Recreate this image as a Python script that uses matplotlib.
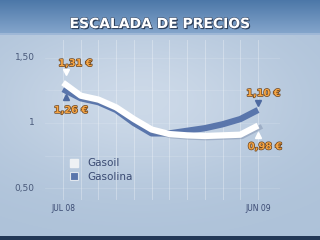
import matplotlib
matplotlib.use('Agg')
import matplotlib.pyplot as plt
import matplotlib.patheffects as pe
import numpy as np

# monthly prices, jul 08 .. jun 09
months = ['JUL 08', 'AGO 08', 'SEP 08', 'OCT 08', 'NOV 08', 'DIC 08',
          'ENE 09', 'FEB 09', 'MAR 09', 'ABR 09', 'MAY 09', 'JUN 09']
gasoil = [1.31, 1.21, 1.18, 1.12, 1.03, 0.95, 0.915, 0.905, 0.90, 0.905, 0.91, 0.98]
gasolina = [1.26, 1.19, 1.16, 1.10, 1.00, 0.92, 0.92, 0.94, 0.96, 0.99, 1.03, 1.10]
yticks = [0.5, 1.0, 1.5]
ylabels = ['0,50', '1', '1,50']

W, H = 320, 240
fig = plt.figure(figsize=(W / 100, H / 100), dpi=100)

# background
bg = fig.add_axes([0, 0, 1, 1])
img = np.zeros((H, W, 3))
yy, xx = np.mgrid[0:H, 0:W]
base = np.array([0.68, 0.76, 0.85])
light = np.array([0.80, 0.85, 0.91])
glow = np.exp(-(((xx - 140) / 150.0) ** 2 + ((yy - 100) / 80.0) ** 2))
img[:] = base + (light - base) * glow[..., None]
top = np.array([0.30, 0.47, 0.66])
bot = np.array([0.52, 0.65, 0.80])
t = np.linspace(0, 1, 34)[:, None]
img[:34] = (top + (bot - top) * t)[:, None, :]
img[33:35] = [0.62, 0.72, 0.84]
img[236:] = [0.14, 0.22, 0.34]
bg.imshow(img, aspect='auto', extent=[0, W, H, 0])
bg.set_xlim(0, W)
bg.set_ylim(H, 0)
bg.axis('off')

bg.text(160, 24, 'ESCALADA DE PRECIOS', color='white', fontsize=10, fontweight='bold',
        ha='center', va='center',
        path_effects=[pe.withSimplePatchShadow(offset=(0.8, -0.8), shadow_rgbFace='#1c2c44', alpha=0.9),
                      pe.withStroke(linewidth=0.8, foreground='#3a4a66')])

# chart axes, placed in pixels
ax = fig.add_axes([45 / W, 40 / H, 235 / W, 160 / H])
ax.patch.set_alpha(0)
x = np.arange(len(months))
ax.set_xlim(-1.015, 12.24)
ax.set_ylim(0.408, 1.638)
for s in ax.spines.values():
    s.set_visible(False)
ax.set_xticks(x)
ax.set_yticks(np.arange(0.5, 1.51, 0.25))
ax.grid(True, axis='x', color='white', alpha=0.3, lw=0.7)
ax.grid(True, axis='y', color='white', alpha=0.15, lw=0.6)
ax.tick_params(length=0, labelleft=False, labelbottom=False)

for v, lab in zip(yticks, ylabels):
    ax.text(-1.6, v, lab, color='#4a5a7a', fontsize=6.5, ha='right', va='center')
ax.text(x[0], 0.34, months[0], color='#3a4a72', fontsize=5.5, ha='center', va='center')
ax.text(x[-1], 0.34, months[-1], color='#3a4a72', fontsize=5.5, ha='center', va='center')

ax.plot(x, gasolina, color='#5a76ac', lw=4.5, solid_capstyle='butt')
ax.plot(x + 0.1, np.array(gasoil) - 0.015, color='#7a8aa8', lw=3.5, alpha=0.45)
ax.plot(x, gasoil, color='white', lw=4.5, solid_capstyle='butt')

ax.plot(0.15, 1.39, marker='v', color='white', ms=5)
ax.plot(0.15, 1.20, marker='^', color='#4e6aa0', ms=5)
ax.plot(x[-1], 1.155, marker='v', color='#4e6aa0', ms=5)
ax.plot(x[-1], 0.905, marker='^', color='white', ms=5)

lab_fx = [pe.withStroke(linewidth=1.0, foreground='#6a4420')]
for xv, yv, s in [(0.7, 1.46, '1,31 €'), (0.45, 1.10, '1,26 €'),
                  (11.3, 1.23, '1,10 €'), (11.4, 0.82, '0,98 €')]:
    ax.text(xv, yv, s, color='#f5a545', fontsize=7, fontweight='bold',
            ha='center', va='center', path_effects=lab_fx)

# legend on top
lg = fig.add_axes([0, 0, 1, 1])
lg.set_xlim(0, W)
lg.set_ylim(H, 0)
lg.axis('off')
lg.add_patch(plt.Rectangle((70, 159), 8, 8, color='#eef1f4'))
lg.add_patch(plt.Rectangle((70, 172), 8, 8, fc='#5a76ac', ec='#e0e6ee', lw=0.8))
lg.text(87, 163.5, 'Gasoil', color='#3a4a72', fontsize=7.5, va='center')
lg.text(87, 176.5, 'Gasolina', color='#3a4a72', fontsize=7.5, va='center')

fig.savefig('out.png', dpi=100)
